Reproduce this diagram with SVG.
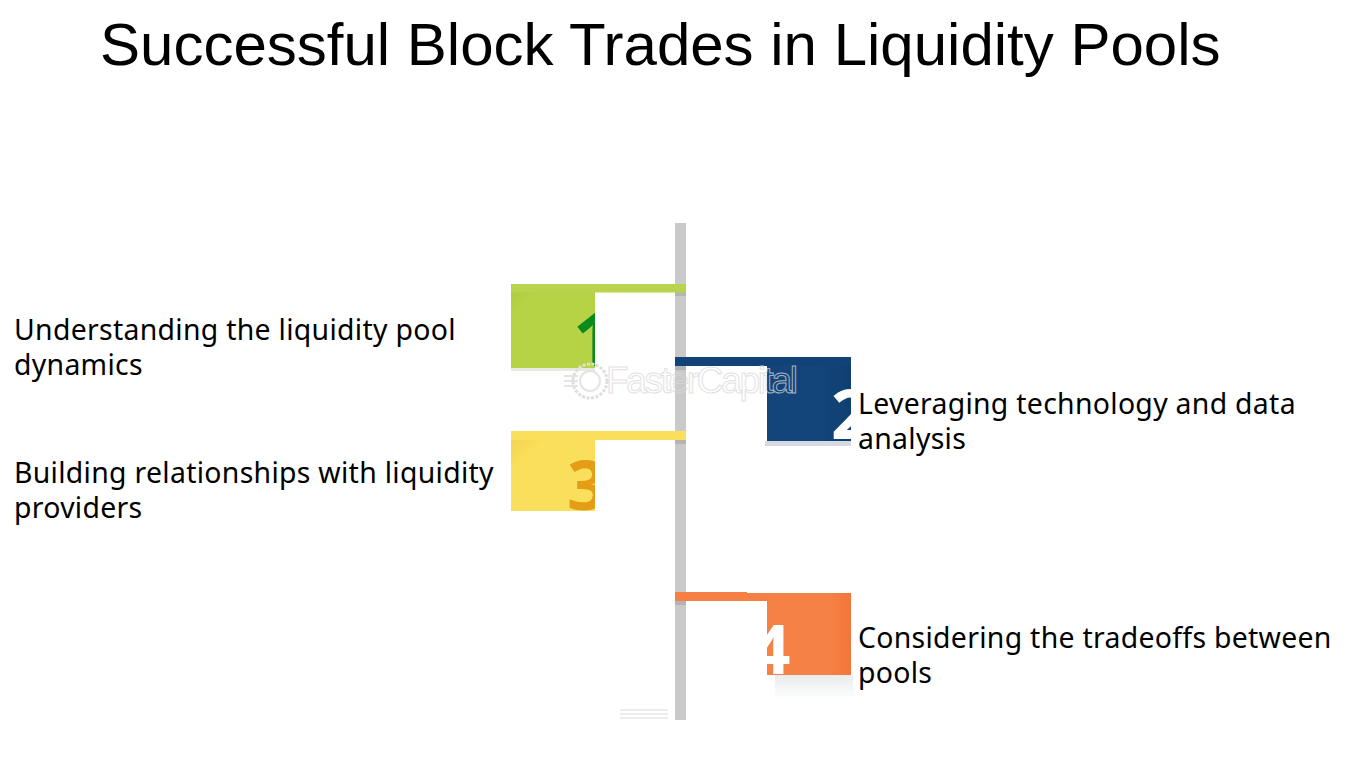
<svg xmlns="http://www.w3.org/2000/svg" width="1359" height="759" viewBox="0 0 1359 759">
<style>
.title{font-family:"Liberation Sans",Arial,sans-serif;font-size:60px;fill:#000}
.lbl{font-family:"Noto Sans","Open Sans",sans-serif;font-size:28.4px;letter-spacing:.3px;fill:#000}
.num{font-family:"Noto Sans","Open Sans",sans-serif;font-weight:700;font-size:69px}
.wm{font-family:"Liberation Sans",Arial,sans-serif;font-size:37px;fill:none;stroke:#d8d8d8;stroke-width:1;opacity:.75}
</style>
<defs>
<clipPath id="c1"><rect x="511" y="284" width="84" height="84"/></clipPath>
<clipPath id="c2"><rect x="767" y="357" width="84" height="84"/></clipPath>
<clipPath id="c3"><rect x="511" y="431" width="84" height="80"/></clipPath>
<clipPath id="c4"><rect x="767" y="593" width="84" height="82"/></clipPath>
<linearGradient id="sh" x1="0" y1="0" x2="0" y2="1"><stop offset="0" stop-color="#e9ebee"/><stop offset="1" stop-color="#fff"/></linearGradient>
<linearGradient id="g1" x1="0" y1="0" x2="1" y2="1"><stop offset="0" stop-color="#adcb3e"/><stop offset=".2" stop-color="#b6d245"/></linearGradient>
<linearGradient id="g2" x1="1" y1="0" x2="0" y2="0"><stop offset="0" stop-color="#0f3f72"/><stop offset=".4" stop-color="#13457a"/></linearGradient>
<linearGradient id="g3" x1="0" y1="0" x2="1" y2="1"><stop offset="0" stop-color="#f3cf4c"/><stop offset=".25" stop-color="#f9df5b"/></linearGradient>
<linearGradient id="g4" x1="1" y1="0" x2="0" y2="0"><stop offset="0" stop-color="#f3763a"/><stop offset=".25" stop-color="#f68145"/></linearGradient>
</defs>
<rect width="1359" height="759" fill="#fff"/>
<text class="title" x="100" y="64.500">Successful Block Trades in Liquidity Pools</text>
<g id="connectors">
<rect x="675" y="223" width="11" height="497" fill="#c9c9c9"/>
<rect x="675" y="292" width="11" height="4" fill="#b4b4b4"/>
<rect x="675" y="366" width="11" height="4" fill="#b4b4b4"/>
<rect x="675" y="440" width="11" height="4" fill="#b4b4b4"/>
<rect x="675" y="601" width="11" height="4" fill="#b4b4b4"/>
</g>
<g id="node-1">
<rect x="511" y="368" width="84" height="3" fill="#e8e8e4"/>
<rect x="511" y="284" width="84" height="84" fill="url(#g1)"/>
<rect x="511" y="284" width="175" height="8.500" fill="#bad34c"/>
<text class="num" x="573" y="366" fill="#0b8a1e" clip-path="url(#c1)" style="font-size:74px">1</text>
<text class="lbl" x="14" y="340">Understanding the liquidity pool</text>
<text class="lbl" x="14" y="375">dynamics</text>
</g>
<g id="node-2">
<rect x="765" y="441" width="86" height="5" fill="#d3dae4"/>
<rect x="767" y="357" width="84" height="84" fill="url(#g2)"/>
<rect x="675" y="357" width="176" height="9" fill="#114379"/>
<text class="num" x="831" y="439" fill="#fff" clip-path="url(#c2)">2</text>
<text class="lbl" x="858" y="414">Leveraging technology and data</text>
<text class="lbl" x="858" y="449">analysis</text>
</g>
<g id="node-3">
<rect x="511" y="431" width="84" height="80" fill="url(#g3)"/>
<rect x="511" y="431" width="175" height="9" fill="#f9df5b"/>
<text class="num" x="567" y="510" fill="#e59c17" clip-path="url(#c3)">3</text>
<text class="lbl" x="14" y="483">Building relationships with liquidity</text>
<text class="lbl" x="14" y="518">providers</text>
</g>
<g id="node-4">
<rect x="775" y="675" width="78" height="24" fill="url(#sh)"/>
<rect x="767" y="593" width="84" height="82" fill="url(#g4)"/>
<rect x="675" y="592" width="72" height="9" fill="#f68043"/>
<rect x="747" y="593" width="20" height="8" fill="#f68043"/>
<text class="num" x="751" y="674" fill="#fff" clip-path="url(#c4)">4</text>
<text class="lbl" x="858" y="648">Considering the tradeoffs between</text>
<text class="lbl" x="858" y="683">pools</text>
</g>
<g id="watermark">
<text class="wm" x="606" y="393" textLength="192">FasterCapital</text>
<circle cx="590" cy="381" r="17" fill="none" stroke="#dedede" stroke-width="3" stroke-dasharray="3 1.5"/>
<circle cx="590" cy="381" r="10" fill="none" stroke="#e4e4e4" stroke-width="2"/>
<path d="M564 376h14M564 381h14M564 386h14" stroke="#e4e4e4" stroke-width="2" fill="none"/>
</g>
<g id="fineprint" fill="#ececec">
<rect x="620" y="709" width="48" height="2"/>
<rect x="620" y="713" width="48" height="2"/>
<rect x="620" y="717" width="48" height="2"/>
</g>
</svg>
